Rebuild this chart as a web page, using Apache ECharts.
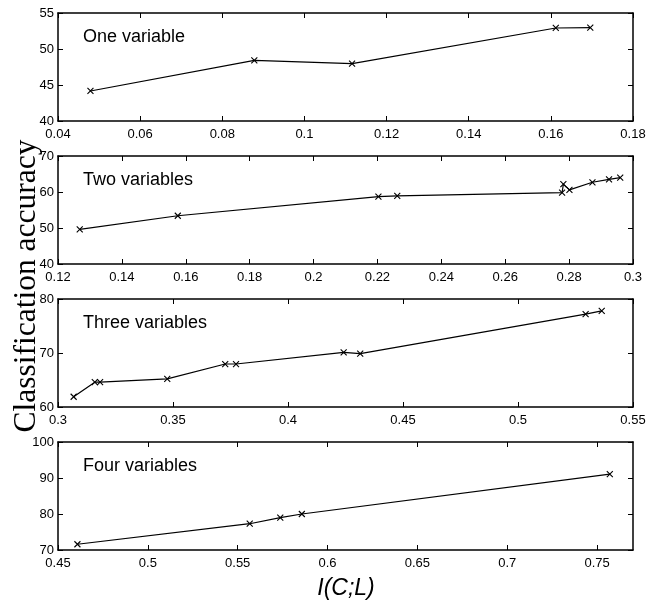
<!DOCTYPE html>
<html>
<head>
<meta charset="utf-8">
<script src="https://cdn.jsdelivr.net/npm/echarts@6/dist/echarts.min.js"></script>
<style>
html,body{margin:0;padding:0;background:#fff;}
#c{width:649px;height:610px;}
</style>
</head>
<body>
<div id="c"></div>
<script>
// ---- data ----
const titles = ['One variable', 'Two variables', 'Three variables', 'Four variables'];

const oneX = [0.0479, 0.0878, 0.1116, 0.1612, 0.1696];
const oneY = [44.17, 48.43, 47.96, 52.92, 52.97];

const twoX = [0.1268, 0.1575, 0.2203, 0.2262, 0.2778, 0.2782, 0.2801, 0.2873, 0.2925, 0.2960];
const twoY = [49.6, 53.4, 58.7, 58.9, 59.8, 62.2, 60.6, 62.7, 63.5, 64.0];

const threeX = [0.3068, 0.3160, 0.3183, 0.3475, 0.3727, 0.3774, 0.4242, 0.4314, 0.5294, 0.5364];
const threeY = [61.9, 64.6, 64.6, 65.2, 67.96, 67.96, 70.1, 69.9, 77.2, 77.8];

const fourX = [0.4608, 0.5567, 0.5737, 0.5857, 0.7571];
const fourY = [71.6, 77.3, 79.0, 80.0, 91.1];

const xTicks1 = [0.04, 0.06, 0.08, 0.1, 0.12, 0.14, 0.16, 0.18];
const yTicks1 = [40, 45, 50, 55];
const xTicks2 = [0.12, 0.14, 0.16, 0.18, 0.2, 0.22, 0.24, 0.26, 0.28, 0.3];
const yTicks2 = [40, 50, 60, 70];
const xTicks3 = [0.3, 0.35, 0.4, 0.45, 0.5, 0.55];
const yTicks3 = [60, 70, 80];
const xTicks4 = [0.45, 0.5, 0.55, 0.6, 0.65, 0.7, 0.75];
const yTicks4 = [70, 80, 90, 100];

const xRanges = [[0.04, 0.18], [0.12, 0.3], [0.3, 0.55], [0.45, 0.77]];
const yRanges = [[40, 55], [40, 70], [60, 80], [70, 100]];

const yTitle = 'Classification accuracy';
const xTitle = 'I(C;L)';

// ---- build ----
const panelsX = [oneX, twoX, threeX, fourX];
const panelsY = [oneY, twoY, threeY, fourY];
const xTickSets = [xTicks1, xTicks2, xTicks3, xTicks4];
const yTickSets = [yTicks1, yTicks2, yTicks3, yTicks4];

const LEFT = 58, WIDTH = 575, HEIGHT = 108;
const TOPS = [13, 156, 299, 442];
const labelFont = '"Liberation Sans", Arial, Helvetica, sans-serif';
const fmt = v => String(parseFloat(Number(v).toFixed(4)));
const xMark = 'path://M0,0L10,10M10,0L0,10';

const grids = [], xAxes = [], yAxes = [], series = [], graphics = [];

for (let i = 0; i < 4; i++) {
  grids.push({ left: LEFT, top: TOPS[i], width: WIDTH, height: HEIGHT, containLabel: false });
  const lineStyle = { color: '#000', width: 1.5 };
  const mkX = (pos, showLabel) => ({
    type: 'value', gridIndex: i, position: pos,
    min: xRanges[i][0], max: xRanges[i][1],
    axisLine: { show: true, onZero: false, lineStyle },
    axisTick: { show: true, inside: true, length: 5, customValues: xTickSets[i], lineStyle: { color: '#000', width: 1 } },
    axisLabel: { show: showLabel, customValues: xTickSets[i], formatter: fmt, color: '#000',
      fontSize: 13, fontFamily: labelFont, margin: 7 },
    splitLine: { show: false }
  });
  const mkY = (pos, showLabel) => ({
    type: 'value', gridIndex: i, position: pos,
    min: yRanges[i][0], max: yRanges[i][1],
    axisLine: { show: true, onZero: false, lineStyle },
    axisTick: { show: true, inside: true, length: 5, customValues: yTickSets[i], lineStyle: { color: '#000', width: 1 } },
    axisLabel: { show: showLabel, customValues: yTickSets[i], formatter: fmt, color: '#000',
      fontSize: 13, fontFamily: labelFont, margin: 4 },
    splitLine: { show: false }
  });
  xAxes.push(mkX('bottom', true));
  xAxes.push(mkX('top', false));
  yAxes.push(mkY('left', true));
  yAxes.push(mkY('right', false));

  series.push({
    type: 'line',
    xAxisIndex: 2 * i, yAxisIndex: 2 * i,
    data: panelsX[i].map((x, k) => [x, panelsY[i][k]]),
    symbol: xMark, symbolSize: 6,
    showSymbol: true,
    lineStyle: { color: '#000', width: 1.2 },
    itemStyle: { color: '#000', borderColor: '#000', borderWidth: 1.1 },
    silent: true, animation: false
  });

  graphics.push({
    type: 'text', left: 83, top: TOPS[i] + 15,
    style: { text: titles[i], fill: '#000', font: '18px ' + labelFont }
  });
}

graphics.push({
  type: 'text', x: 27, y: 286, rotation: Math.PI / 2,
  style: { text: yTitle, fill: '#000', font: '31.5px "Liberation Serif", "Times New Roman", serif',
    textAlign: 'center', textVerticalAlign: 'middle' }
});
graphics.push({
  type: 'text', x: 346, y: 589,
  style: { text: xTitle, fill: '#000', font: 'italic 23px ' + labelFont,
    textAlign: 'center', textVerticalAlign: 'middle' }
});

const chart = echarts.init(document.getElementById('c'), null, { renderer: 'canvas' });
chart.setOption({
  animation: false,
  backgroundColor: '#fff',
  grid: grids,
  xAxis: xAxes,
  yAxis: yAxes,
  series: series,
  graphic: graphics
});
</script>
</body>
</html>
